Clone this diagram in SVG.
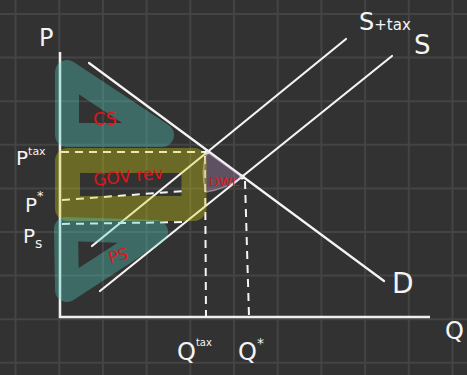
<svg xmlns="http://www.w3.org/2000/svg" width="467" height="375" viewBox="0 0 467 375">
<defs>
<style>
.grid{stroke:#444444;stroke-width:2;fill:none}
.ax{stroke:#efefef;stroke-width:2.5;fill:none}
.ln{stroke:#f4f4f4;stroke-width:2.2;fill:none;stroke-linecap:round}
.dash{stroke:#f4f4f4;stroke-width:2;fill:none;stroke-dasharray:8 6}
.teal{stroke:rgb(87,213,199);stroke-opacity:0.35;stroke-width:24;fill:none;stroke-linejoin:round;stroke-linecap:round}
.yel{stroke:rgb(213,210,16);stroke-opacity:0.35;stroke-width:25;fill:none;stroke-linejoin:round;stroke-linecap:round}
.wt{fill:#f4f4f4;font-family:"DejaVu Sans","Liberation Sans",sans-serif}
.rd{fill:#e0141a;font-family:"DejaVu Sans","Liberation Sans",sans-serif}
</style>
</defs>
<rect width="467" height="375" fill="#323232"/>
<g id="grid">
<path class="grid" d="M15.5 0V375M59.2 0V375M102.9 0V375M146.6 0V375M190.3 0V375M234 0V375M277.7 0V375M321.4 0V375M365.1 0V375M408.8 0V375M452.5 0V375"/>
<path class="grid" d="M0 14H467M0 57.6H467M0 101.2H467M0 144.8H467M0 188.4H467M0 232H467M0 275.6H467M0 319.2H467M0 362.8H467"/>
</g>
<g id="axes">
<path class="ax" d="M60 52V317H430"/>
</g>
<g id="connectors">
<path id="demand" class="ln" d="M89 63L384 281"/>
<path id="supply" class="ln" d="M100 291L392 56"/>
<path id="supply-tax" class="ln" d="M92 246L346 39"/>
<path class="dash" d="M61 152H207"/>
<path class="dash" d="M62 200L185 191"/>
<path class="dash" d="M62 224L186 222"/>
<path class="dash" d="M205 156L206 316"/>
<path class="dash" d="M245 181L249 316"/>
<circle cx="207" cy="152" r="2.5" fill="#f4f4f4"/>
<circle cx="242" cy="177" r="2.5" fill="#f4f4f4"/>
</g>
<g id="dwl">
<path d="M207 152L242 177Q226 189 206 192Q200 172 207 152Z" fill="rgb(190,150,200)" fill-opacity="0.32" stroke="#e8c8dc" stroke-opacity="0.5" stroke-width="1.5"/>
<text class="rd" x="209" y="186" font-size="13">DWL</text>
</g>
<g id="cs">
<path class="teal" d="M67 72L67 135L162 135Z"/>
<text class="rd" x="93" y="125" font-size="18">CS</text>
</g>
<g id="gov-rev">
<path class="yel" d="M67.5 160.5H194V208.5H67.5Z"/>
<text class="rd" x="93" y="182" font-size="17" transform="rotate(-6 130 175)">GOV rev</text>
</g>
<g id="ps">
<path class="teal" d="M66 229L156 232L67 290Z"/>
<text class="rd" x="108" y="261" font-size="16" transform="rotate(-14 118 254)">PS</text>
</g>
<g id="labels">
<text class="wt" x="39" y="46" font-size="24">P</text>
<text class="wt" x="16" y="165" font-size="20">P<tspan font-size="11" dy="-10">tax</tspan></text>
<text class="wt" x="25" y="212" font-size="20">P<tspan font-size="13" dy="-12">*</tspan></text>
<text class="wt" x="23" y="243" font-size="20">P<tspan font-size="14" dy="5">s</tspan></text>
<text class="wt" x="359" y="30"><tspan font-size="24">S</tspan><tspan font-size="15">+tax</tspan></text>
<text class="wt" x="414" y="54" font-size="26">S</text>
<text class="wt" x="392" y="293" font-size="28">D</text>
<text class="wt" x="445" y="339" font-size="24">Q</text>
<text class="wt" x="177" y="360" font-size="24">Q<tspan font-size="10" dy="-14">tax</tspan></text>
<text class="wt" x="238" y="360" font-size="24">Q<tspan font-size="14" dy="-12">*</tspan></text>
</g>
</svg>
